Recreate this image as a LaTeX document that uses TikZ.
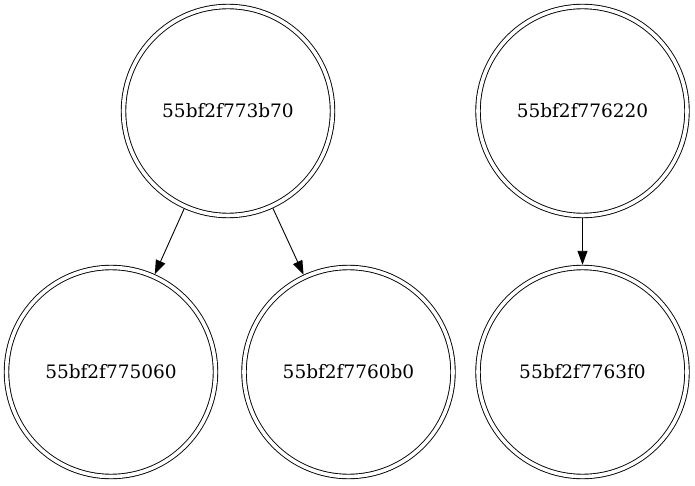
\documentclass[tikz,border=0pt]{standalone}
\usepackage{fontspec}
\setmainfont{DejaVu Serif}
\usetikzlibrary{arrows.meta}
\begin{document}
\begin{tikzpicture}[x=1pt,y=-1pt,
  dcirc/.style={circle, draw=black, line width=0.9pt, double=white, double distance=3.6pt,
    minimum size=209pt, inner sep=0pt, outer sep=2.7pt, font=\fontsize{18.5}{22}\selectfont},
  edge/.style={line width=0.9pt, -{Triangle[length=14pt,width=10pt]}}]
\useasboundingbox (0,0) rectangle (695,486);
\node[dcirc] (a) at (228,111) {55bf2f773b70};
\node[dcirc] (b) at (582.5,111) {55bf2f776220};
\node[dcirc] (c) at (111,372) {55bf2f775060};
\node[dcirc] (d) at (348.5,372) {55bf2f7760b0};
\node[dcirc] (e) at (582.5,372) {55bf2f7763f0};
\draw[edge] (a) -- (c);
\draw[edge] (a) -- (d);
\draw[edge] (b) -- (e);
\end{tikzpicture}
\end{document}
